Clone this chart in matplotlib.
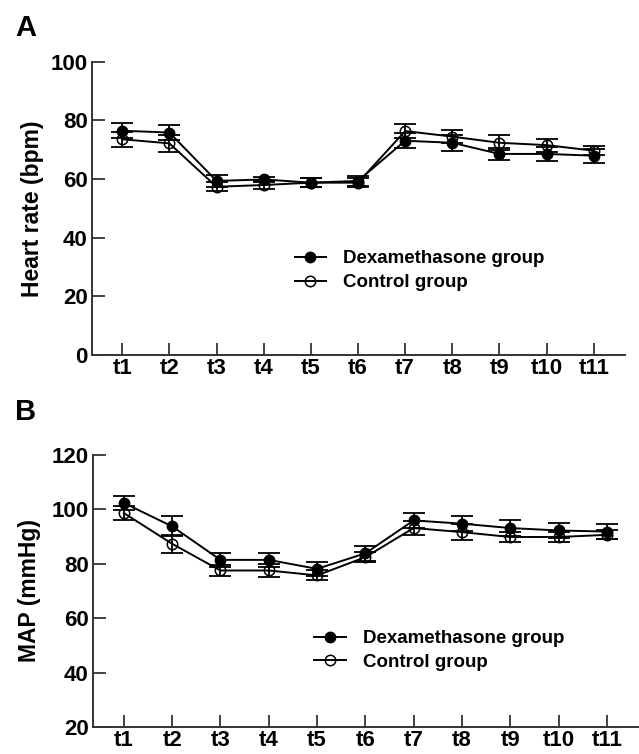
import numpy as np
import matplotlib
matplotlib.use('Agg')
import matplotlib.pyplot as plt

plt.rcParams['font.family'] = ['Liberation Sans', 'DejaVu Sans']
plt.rcParams['font.weight'] = 'bold'

# time points
labels = ['t1', 't2', 't3', 't4', 't5', 't6', 't7', 't8', 't9', 't10', 't11']

# panel A: heart rate (bpm), mean and error
hr_dex = [76.5, 75.9, 59.4, 59.9, 58.8, 59.4, 73.1, 72.4, 68.6, 68.6, 68.0]
hr_dex_err = [2.5, 2.7, 2.0, 1.0, 1.5, 1.8, 2.6, 2.7, 2.1, 2.3, 2.4]
hr_ctl = [73.6, 72.2, 57.4, 58.0, 58.8, 58.8, 76.4, 74.5, 72.4, 71.6, 69.7]
hr_ctl_err = [2.5, 2.8, 1.5, 1.5, 1.5, 1.5, 2.4, 2.2, 2.6, 2.2, 1.6]

# panel B: MAP (mmHg)
map_dex = [102.3, 93.7, 81.4, 81.4, 78.1, 83.8, 95.9, 94.7, 93.1, 92.2, 91.8]
map_dex_err = [2.6, 3.7, 2.5, 2.5, 2.7, 2.8, 2.7, 2.7, 2.8, 2.9, 2.7]
map_ctl = [98.6, 87.3, 77.5, 77.5, 75.7, 82.4, 93.1, 91.6, 89.8, 89.8, 90.6]
map_ctl_err = [2.5, 3.2, 1.9, 2.4, 1.8, 1.9, 2.5, 2.8, 2.0, 2.0, 1.6]

x = np.arange(1, len(labels) + 1)

fig = plt.figure(figsize=(6.39, 7.54), dpi=100)
axA = fig.add_axes([0.144, 0.529, 0.834, 0.389])
axB = fig.add_axes([0.1455, 0.0358, 0.854, 0.361])


def panel(ax, dex, dex_err, ctl, ctl_err, ylim, yticks, ylabel, leg_xy, lpad):
    # error bars first, then lines + markers on top
    ax.errorbar(x, ctl, yerr=ctl_err, fmt='none', ecolor='black',
                capsize=8, capthick=1.3, elinewidth=1.3, zorder=1)
    ax.errorbar(x, dex, yerr=dex_err, fmt='none', ecolor='black',
                capsize=8, capthick=1.3, elinewidth=1.3, zorder=1)
    ax.plot(x, ctl, color='black', lw=1.4, marker='o', ms=7.5,
            mfc='none', mec='black', mew=1.1, label='Control group', zorder=2)
    ax.plot(x, dex, color='black', lw=1.4, marker='o', ms=7.5,
            mfc='black', mec='black', label='Dexamethasone group', zorder=3)
    ax.set_xlim(0.36, 11.66)
    ax.set_ylim(*ylim)
    ax.set_yticks(yticks)
    ax.set_xticks(x)
    ax.set_xticklabels(labels)
    for s in ['top', 'right']:
        ax.spines[s].set_visible(False)
    for s in ['left', 'bottom']:
        ax.spines[s].set_linewidth(1.4)
        ax.spines[s].set_color('#333333')
    ax.tick_params(direction='in', length=9, width=1.3, color='#333333',
                   labelsize=16, pad=3)
    ax.tick_params(axis='x', pad=2)
    ax.set_ylabel(ylabel, fontsize=16.5, fontweight='bold', labelpad=lpad)
    h, l = ax.get_legend_handles_labels()
    ax.legend(h[::-1], l[::-1], loc='center left', bbox_to_anchor=leg_xy,
              frameon=False, fontsize=13.5, handlelength=1.7,
              handletextpad=0.9, labelspacing=0.35, borderpad=0,
              borderaxespad=0)


panel(axA, hr_dex, hr_dex_err, hr_ctl, hr_ctl_err, (0, 100),
      [0, 20, 40, 60, 80, 100], 'Heart rate (bpm)', (0.38, 0.288), 5)
panel(axB, map_dex, map_dex_err, map_ctl, map_ctl_err, (20, 120),
      [20, 40, 60, 80, 100, 120], 'MAP (mmHg)', (0.405, 0.281), 8)

fig.text(15/639, 1 - 36/754, 'A', fontsize=21, fontweight='bold', va='baseline')
fig.text(15/639, 1 - 420/754, 'B', fontsize=21, fontweight='bold', va='baseline')

fig.savefig('out.png', dpi=100)
